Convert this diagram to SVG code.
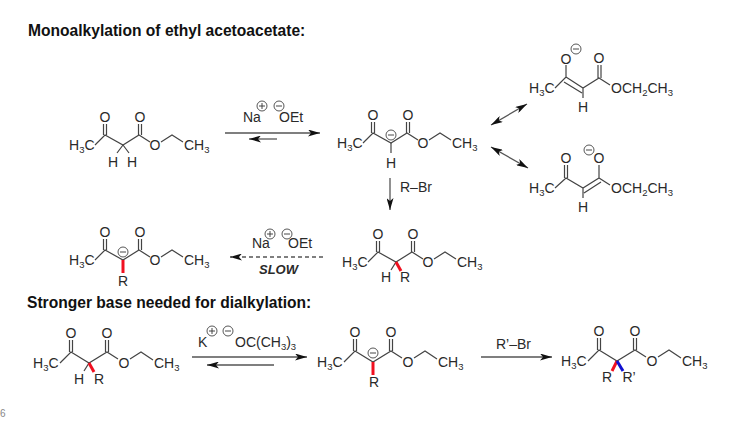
<svg xmlns="http://www.w3.org/2000/svg" width="742" height="435" viewBox="0 0 742 435">
<style>
text{font-family:"Liberation Sans",Arial,sans-serif;font-size:14px;fill:#2a2a2a}
.h{font-weight:bold;font-size:15.6px;fill:#111}
.m{text-anchor:middle}
.s{font-size:9.5px}
.b,.c,.a{fill:none;stroke:#444;stroke-width:1.2}
.c{stroke-width:.9}
.a{stroke:#555;stroke-width:1.3}
.sign{stroke:#333;stroke-width:.9}
.red{stroke:#f01020;stroke-width:3}
.blue{stroke:#1010d0;stroke-width:3}
</style>
<defs>
<marker id="ah" markerWidth="13" markerHeight="7" refX="12" refY="3.5" orient="auto-start-reverse" markerUnits="userSpaceOnUse"><path d="M0 0L12 3.5 0 7 3 3.5Z" fill="#111"/></marker>
<path id="sk" class="b" d="M-28 0L-18-10 0 0 16-10 27-3M38-3L49-10 60-3M-19.5-10V-21M-16.5-10V-21M15.5-10V-21M18.5-10V-21"/>
<path id="sk2" class="b" d="M-29 0L-18-11 0 0 18-11 29-4M41-4L52-11 64-3M-19.5-11V-23M-16.5-11V-23M16.5-11V-23M19.5-11V-23"/>
<g id="minus"><circle class="c" r="5"/><path class="sign" d="M-3 0H3"/></g>
<g id="plus"><circle class="c" r="5"/><path class="sign" d="M-3 0H3M0-3V3"/></g>
<g id="lab">
<text x="-54" y="5">H<tspan class="s" dy="3">3</tspan><tspan dy="-3">C</tspan></text>
<text class="m" x="-18" y="-23">O</text>
<text class="m" x="17" y="-23">O</text>
<text class="m" x="32" y="5">O</text>
<text x="61" y="5">CH<tspan class="s" dy="3">3</tspan></text>
</g>
<g id="lab2">
<text x="-56" y="5">H<tspan class="s" dy="3">3</tspan><tspan dy="-3">C</tspan></text>
<text class="m" x="-18" y="-25">O</text>
<text class="m" x="18" y="-25">O</text>
<text class="m" x="35" y="5">O</text>
<text x="65" y="5">CH<tspan class="s" dy="3">3</tspan></text>
</g>
</defs>
<text class="h" x="28" y="36">Monoalkylation of ethyl acetoacetate:</text>
<text class="h" x="27" y="308">Stronger base needed for dialkylation:</text>
<text x="0" y="417" style="font-size:10px;fill:#888">6</text>

<g id="m1" transform="translate(123,145)">
<use href="#sk"/><use href="#lab"/>
<path class="b" d="M0 0L-6 8M0 0L6 8"/>
<text class="m" x="-10" y="22">H</text><text class="m" x="9" y="22">H</text>
</g>
<g id="m2" transform="translate(391,143)">
<use href="#sk"/><use href="#lab"/>
<use href="#minus" y="-8"/>
<path class="b" d="M0 0V10"/>
<text class="m" x="0" y="25">H</text>
</g>
<g id="m3" transform="translate(123,260)">
<use href="#sk"/><use href="#lab"/>
<use href="#minus" y="-8"/>
<path class="red" d="M0 0V13"/>
<text class="m" x="0" y="26">R</text>
</g>
<g id="m4" transform="translate(396,262)">
<use href="#sk"/><use href="#lab"/>
<path class="b" d="M0 0L-5 8"/><path class="red" d="M0 0L5 9"/>
<text class="m" x="-10" y="20">H</text><text class="m" x="9" y="20">R</text>
</g>
<g id="m5" transform="translate(89,363)">
<use href="#sk2"/><use href="#lab2"/>
<path class="b" d="M0 0L-5 8"/><path class="red" d="M0 0L5 9"/>
<text class="m" x="-10" y="21">H</text><text class="m" x="10" y="21">R</text>
</g>
<g id="m6" transform="translate(373,362)">
<use href="#sk2"/><use href="#lab2"/>
<use href="#minus" y="-9"/>
<path class="red" d="M0 0V13"/>
<text class="m" x="1" y="25">R</text>
</g>
<g id="m7" transform="translate(617,361)">
<use href="#sk2"/><use href="#lab2"/>
<path class="red" d="M0 0L-5 10"/><path class="blue" d="M0 0L6 10"/>
<text class="m" x="-10" y="21">R</text><text class="m" x="12" y="21">R’</text>
</g>
<g id="m8" transform="translate(583,88)">
<path class="b" d="M-28 0L-17-11 0 0 16-10 27-3M-17-11V-23M-19-6L-1 5M15-10V-23M18-10V-23M0 0V10"/>
<text x="-54" y="5">H<tspan class="s" dy="3">3</tspan><tspan dy="-3">C</tspan></text>
<text class="m" x="-17" y="-24">O</text>
<text class="m" x="16" y="-25">O</text>
<text x="28" y="5">OCH<tspan class="s" dy="3">2</tspan><tspan dy="-3">CH</tspan><tspan class="s" dy="3">3</tspan></text>
<text class="m" x="0" y="24">H</text>
<use href="#minus" x="-7" y="-39"/>
</g>
<g id="m9" transform="translate(583,188)">
<path class="b" d="M-28 0L-17-10 0 0 16-10 27-3M-18.5-10V-23M-15.5-10V-23M16-10V-23M1 5L18-6M0 0V10"/>
<text x="-54" y="5">H<tspan class="s" dy="3">3</tspan><tspan dy="-3">C</tspan></text>
<text class="m" x="-17" y="-25">O</text>
<text class="m" x="16" y="-25">O</text>
<text x="28" y="5">OCH<tspan class="s" dy="3">2</tspan><tspan dy="-3">CH</tspan><tspan class="s" dy="3">3</tspan></text>
<text class="m" x="0" y="24">H</text>
<use href="#minus" x="6" y="-38"/>
</g>

<g id="r1">
<text x="243" y="122">Na</text><use href="#plus" x="262" y="106"/><use href="#minus" x="279" y="106"/><text x="279" y="122">OEt</text>
</g>
<g id="r2"><text x="400" y="192">R–Br</text></g>
<g id="r3">
<text x="252" y="248">Na</text><use href="#plus" x="270" y="234"/><use href="#minus" x="287" y="234"/><text x="288" y="248">OEt</text>
<text x="259" y="274" style="font-weight:bold;font-style:italic;font-size:13px">SLOW</text>
</g>
<g id="r4">
<text x="198" y="347">K</text><use href="#plus" x="212" y="331"/><use href="#minus" x="228" y="331"/><text x="235" y="347">OC(CH<tspan class="s" dy="3">3</tspan><tspan dy="-3">)</tspan><tspan class="s" dy="3">3</tspan></text>
</g>
<g id="r5"><text x="496" y="349">R’–Br</text></g>

<g id="connectors">
<line class="a" x1="225" y1="133" x2="320" y2="133" marker-end="url(#ah)"/>
<line class="a" x1="277" y1="139" x2="249" y2="139" marker-end="url(#ah)"/>
<line class="a" x1="491" y1="125" x2="527" y2="104" marker-start="url(#ah)" marker-end="url(#ah)"/>
<line class="a" x1="491" y1="147" x2="528" y2="168" marker-start="url(#ah)" marker-end="url(#ah)"/>
<line class="a" x1="390" y1="178" x2="390" y2="210" marker-end="url(#ah)"/>
<line class="a" x1="323" y1="257" x2="230" y2="257" stroke-dasharray="4 3" marker-end="url(#ah)"/>
<line class="a" x1="192" y1="357" x2="307" y2="357" marker-end="url(#ah)"/>
<line class="a" x1="274" y1="365" x2="207" y2="365" marker-end="url(#ah)"/>
<line class="a" x1="481" y1="357" x2="552" y2="357" marker-end="url(#ah)"/>
</g>
</svg>
